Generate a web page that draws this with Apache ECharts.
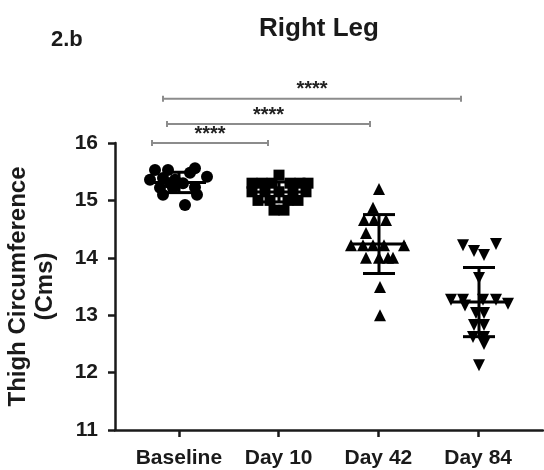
<!DOCTYPE html>
<html>
<head>
<meta charset="utf-8">
<script src="https://cdn.jsdelivr.net/npm/echarts@6/dist/echarts.min.js"></script>
<style>
    html, body { margin: 0; padding: 0; background: #fff; }
    #chart { width: 544px; height: 470px; }
</style>
</head>
<body>
<div id="chart"></div>
<script>
    // groups on the x axis
    const categories = ['Baseline', 'Day 10', 'Day 42', 'Day 84'];

    // thigh circumference per subject (Cms)
    const baselineValues = [15.53, 15.53, 15.56, 15.48, 15.41, 15.36, 15.39, 15.36, 15.30, 15.23, 15.22, 15.22, 15.10, 15.10, 14.92, 15.30];
    const day10Values = [15.44, 15.30, 15.30, 15.30, 15.30, 15.30, 15.30, 15.15, 15.15, 15.15, 15.15, 15.15, 15.00, 15.00, 15.00, 15.00, 14.83, 14.83];
    const day42Values = [15.20, 14.87, 14.66, 14.66, 14.66, 14.43, 14.22, 14.22, 14.22, 14.22, 14.22, 14.00, 14.00, 14.00, 14.00, 13.49, 13.00];
    const day84Values = [14.22, 14.12, 14.05, 14.24, 13.65, 13.27, 13.27, 13.17, 13.27, 13.27, 13.20, 13.04, 13.04, 12.83, 12.83, 12.62, 12.62, 12.50, 12.13];

    // horizontal scatter spread of each dot inside its group (category units)
    const baselineSpread = [-0.24, -0.11, 0.16, 0.11, 0.28, -0.29, -0.16, -0.04, 0.04, 0.16, -0.19, -0.06, -0.16, 0.18, 0.06, -0.09];
    const day10Spread = [0, -0.27, -0.17, -0.07, 0.11, 0.21, 0.29, -0.27, -0.14, 0, 0.14, 0.27, -0.21, -0.09, 0.09, 0.19, -0.05, 0.05];
    const day42Spread = [0, -0.06, -0.15, -0.05, 0.07, -0.13, -0.28, -0.16, -0.06, 0.05, 0.25, -0.13, 0, 0.09, 0.14, 0.01, 0.01];
    const day84Spread = [-0.16, -0.05, 0.05, 0.17, 0, -0.28, -0.16, -0.14, 0.04, 0.17, 0.29, -0.03, 0.05, -0.05, 0.05, -0.06, 0.05, 0.05, 0];

    const yTicks = [11, 12, 13, 14, 15, 16];

    // significance brackets: from group, to group, height (Cms), label
    const bracketFrom = [-0.27, -0.12, -0.16];
    const bracketTo = [0.89, 1.91, 2.82];
    const bracketLevel = [16.0, 16.33, 16.77];
    const bracketText = ['****', '****', '****'];

    const groups = [
        { values: baselineValues, spread: baselineSpread, symbol: 'circle', size: 12, rotate: 0 },
        { values: day10Values, spread: day10Spread, symbol: 'rect', size: 11, rotate: 0 },
        { values: day42Values, spread: day42Spread, symbol: 'triangle', size: 12, rotate: 0 },
        { values: day84Values, spread: day84Spread, symbol: 'triangle', size: 12, rotate: 180 }
    ];

    const mean = arr => arr.reduce((a, b) => a + b, 0) / arr.length;
    const sd = arr => {
        const m = mean(arr);
        return Math.sqrt(arr.reduce((a, b) => a + (b - m) * (b - m), 0) / (arr.length - 1));
    };

    const ink = '#1a1a1a';
    const font = 'Liberation Sans, Arial, sans-serif';

    const series = groups.map((g, index) => ({
        type: 'scatter',
        xAxisIndex: 0,
        yAxisIndex: 0,
        symbol: g.symbol,
        symbolSize: g.size,
        symbolRotate: g.rotate,
        itemStyle: { color: '#000', opacity: 1 },
        silent: true,
        data: g.values.map((v, i) => [index + g.spread[i], v])
    }));

    // mean with SD
    series.push({
        type: 'custom',
        xAxisIndex: 0,
        yAxisIndex: 0,
        z: 5,
        silent: true,
        data: groups.map((g, index) => [index, mean(g.values), sd(g.values)]),
        renderItem(params, api) {
            const i = api.value(0);
            const m = api.value(1);
            const s = api.value(2);
            const c = api.coord([i, m]);
            const hi = api.coord([i, m + s]);
            const lo = api.coord([i, m - s]);
            const halfMean = api.size([0.27, 0])[0];
            const halfCap = api.size([0.16, 0])[0];
            const style = { stroke: '#000', lineWidth: 3 };
            return {
                type: 'group',
                children: [
                    { type: 'line', shape: { x1: c[0] - halfMean, y1: c[1], x2: c[0] + halfMean, y2: c[1] }, style },
                    { type: 'line', shape: { x1: c[0], y1: hi[1], x2: c[0], y2: lo[1] }, style },
                    { type: 'line', shape: { x1: c[0] - halfCap, y1: hi[1], x2: c[0] + halfCap, y2: hi[1] }, style },
                    { type: 'line', shape: { x1: c[0] - halfCap, y1: lo[1], x2: c[0] + halfCap, y2: lo[1] }, style }
                ]
            };
        }
    });

    // significance brackets above the plot
    series.push({
        type: 'custom',
        xAxisIndex: 0,
        yAxisIndex: 0,
        clip: false,
        silent: true,
        data: bracketFrom.map((f, i) => [f, bracketTo[i], bracketLevel[i]]),
        renderItem(params, api) {
            const a = api.coord([api.value(0), api.value(2)]);
            const b = api.coord([api.value(1), api.value(2)]);
            const style = { stroke: '#8c8c8c', lineWidth: 2 };
            return {
                type: 'group',
                children: [
                    { type: 'line', shape: { x1: a[0], y1: a[1], x2: b[0], y2: b[1] }, style },
                    { type: 'line', shape: { x1: a[0], y1: a[1] - 3, x2: a[0], y2: a[1] + 3 }, style },
                    { type: 'line', shape: { x1: b[0], y1: b[1] - 3, x2: b[0], y2: b[1] + 3 }, style },
                    {
                        type: 'text',
                        x: (a[0] + b[0]) / 2,
                        y: a[1] + 1,
                        style: {
                            text: bracketText[params.dataIndex],
                            fill: '#222',
                            font: `bold 20px ${font}`,
                            align: 'center',
                            verticalAlign: 'bottom'
                        }
                    }
                ]
            };
        }
    });

    const chart = echarts.init(document.getElementById('chart'), null, { renderer: 'canvas' });

    chart.setOption({
        animation: false,
        backgroundColor: '#fff',
        title: [
            {
                text: 'Right Leg',
                left: 254,
                top: 11,
                textStyle: { fontFamily: font, fontWeight: 'bold', fontSize: 26, color: ink }
            },
            {
                text: '2.b',
                left: 46,
                top: 24,
                textStyle: { fontFamily: font, fontWeight: 'bold', fontSize: 22, color: ink }
            }
        ],
        grid: [
            { left: 115, right: 1, top: 143, bottom: 40, containLabel: false, outerBoundsMode: 'none' },
            { left: 129, right: 16, top: 143, bottom: 40, containLabel: false, outerBoundsMode: 'none' }
        ],
        xAxis: [
            {
                type: 'value',
                gridIndex: 0,
                min: -0.64,
                max: 3.64,
                axisLine: { show: true, onZero: false, lineStyle: { color: ink, width: 2.5 } },
                axisTick: { show: false },
                axisLabel: { show: false },
                splitLine: { show: false }
            },
            {
                type: 'category',
                gridIndex: 1,
                data: categories,
                boundaryGap: true,
                axisLine: { show: false },
                axisTick: { show: true, alignWithLabel: true, length: 7, lineStyle: { color: ink, width: 2.5 } },
                axisLabel: { interval: 0, margin: 18, color: ink, fontFamily: font, fontWeight: 'bold', fontSize: 21 },
                splitLine: { show: false }
            }
        ],
        yAxis: [
            {
                type: 'value',
                gridIndex: 0,
                min: yTicks[0],
                max: yTicks[yTicks.length - 1],
                interval: 1,
                name: 'Thigh Circumference\n(Cms)',
                nameLocation: 'middle',
                nameGap: 56,
                nameRotate: 90,
                nameTextStyle: { color: ink, fontFamily: font, fontWeight: 'bold', fontSize: 24, lineHeight: 27 },
                axisLine: { show: true, onZero: false, lineStyle: { color: ink, width: 2.5 } },
                axisTick: { show: true, length: 7, lineStyle: { color: ink, width: 2.5 } },
                axisLabel: { margin: 17, color: ink, fontFamily: font, fontWeight: 'bold', fontSize: 21 },
                splitLine: { show: false }
            },
            {
                type: 'value',
                gridIndex: 1,
                min: 11,
                max: 16,
                show: false
            }
        ],
        series
    });
</script>
</body>
</html>
